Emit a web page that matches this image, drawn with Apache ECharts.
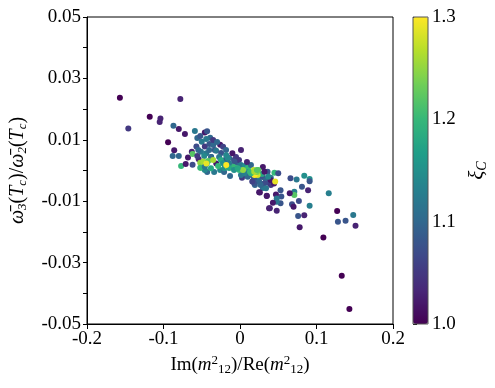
<!DOCTYPE html>
<html><head><meta charset="utf-8">
<script src="https://cdn.jsdelivr.net/npm/echarts@6/dist/echarts.min.js"></script>
<style>html,body{margin:0;padding:0;background:#fff}#c{width:495px;height:388px}</style>
</head><body><div id="c"></div>
<script>
// Im(m12^2)/Re(m12^2)
const xValues = [
-0.157,-0.078,-0.118,-0.104,-0.105,-0.146,-0.087,-0.080,-0.072,-0.059,
-0.094,-0.086,-0.088,-0.080,-0.068,-0.063,-0.057,-0.077,-0.071,-0.062,
-0.062,-0.054,-0.051,-0.046,-0.043,-0.039,-0.050,-0.046,-0.040,-0.035,
-0.026,-0.051,-0.044,-0.033,
-0.0558,-0.0519,-0.0442,-0.0351,-0.0299,-0.0221,-0.0182,-0.0545,-0.0403,-0.0312,
-0.0247,-0.0468,-0.0377,-0.0273,-0.0195,-0.0143,-0.0078,-0.0039,-0.0013,0.0013,
0.0065,0.0104,0.0117,0.0169,0.0078,0.0247,0.0299,0.0286,0.0338,0.0377,
0.0403,0.0143,-0.0260,-0.0208,-0.0338,-0.0429,-0.0558,0.0013,-0.0052,0.0091,
0.0299,0.0195,0.0299,0.0403,0.0208,-0.0130,0.0026,
0.036,0.0445,0.040,0.0316,0.025,0.0186,0.053,-0.0435,-0.0377,-0.0074,
0.0186,0.010,0.0013,-0.046,-0.0204,-0.016,
-0.052,-0.048,-0.052,-0.046,-0.038,-0.031,-0.025,-0.018,-0.010,-0.016,
-0.012,-0.005,-0.001,0.006,0.013,0.018,0.023,0.024,0.032,0.037,
0.016,0.027,0.034,0.025,0.035,0.038,-0.009,0.019,0.045,0.050,
0.046,0.066,0.074,0.084,0.091,0.091,0.081,0.089,0.071,0.071,
0.065,0.116,0.053,0.054,0.047,0.048,0.048,0.026,0.035,0.043,
0.039,0.048,0.068,0.070,0.077,0.091,0.076,0.084,0.078,0.127,
0.128,0.138,0.148,0.151,0.109,0.133,0.143,
-0.0416,-0.0351,-0.0286,-0.0221,-0.0143,0.0039,0.0221,-0.0143,-0.0078,-0.044,
-0.018,-0.003,0.0143,0.0186,0.0221
];
// omega3(Tc)/omega2(Tc)
const yValues = [
0.0237,0.0233,0.0175,0.0169,0.0158,0.0137,0.0146,0.0135,0.0119,0.0129,
0.0092,0.0066,0.0047,0.0047,0.0042,0.0061,0.0078,0.0015,0.0021,0.0019,
0.0054,0.0037,0.0009,0.0124,0.0128,0.0107,0.0094,0.0078,0.0086,0.0083,
0.0084,0.0061,0.0056,0.0067,
0.0106,0.0112,0.0103,0.0099,0.0093,0.0077,0.0067,0.0067,0.0067,0.0064,
0.0057,0.0047,0.0044,0.0044,0.0034,0.0041,0.0034,0.0024,0.0034,0.0018,
0.0015,0.0008,-0.0005,-0.0018,-0.0015,-0.0024,-0.0021,-0.0011,-0.0031,-0.0041,
-0.0024,0.0018,0.0002,-0.0005,-0.0005,-0.0005,0.0047,0.0067,0.0044,0.0028,
0.0011,-0.0047,-0.0057,-0.0047,-0.0031,-0.0018,-0.0024,
-0.0004,-0.0042,-0.0031,-0.0042,-0.0036,-0.0042,-0.0107,0.0023,0.0044,0.0029,
-0.0025,-0.0020,-0.0015,0.0002,0.0007,0.0040,
0.0025,0.0029,0.0009,0.0012,0.0007,0.0023,0.0034,0.0050,0.0056,0.0012,
0.0010,0.0007,0.0002,-0.0009,-0.0004,0.0002,-0.0015,0.0002,-0.0004,-0.0020,
-0.0036,-0.0047,-0.0058,-0.0071,-0.0082,-0.0123,0.0012,-0.0015,-0.0007,-0.0009,
-0.0036,-0.0025,-0.0029,-0.0017,-0.0028,-0.0035,-0.0053,-0.0064,-0.0069,-0.0080,
-0.0074,-0.0074,-0.0064,-0.0085,-0.0078,-0.0091,-0.0102,-0.0072,-0.0083,-0.0105,
-0.0123,-0.0131,-0.0110,-0.0118,-0.0099,-0.0115,-0.0148,-0.0146,-0.0185,-0.0132,
-0.0167,-0.0164,-0.0145,-0.0180,-0.0218,-0.0343,-0.0451,
0.0031,0.0034,0.0015,0.0024,0.0024,0.0002,-0.0005,0.0008,0.0002,0.0023,
0.0018,0.0007,-0.0009,-0.0004,0.0002
];
// xi_C
const xiValues = [
1.00,1.03,1.00,1.03,1.03,1.05,1.10,1.02,1.02,1.12,
1.00,1.02,1.10,1.10,1.02,1.03,1.07,1.20,1.02,1.07,
1.22,1.03,1.23,1.02,1.08,1.10,1.12,1.05,1.08,1.10,
1.02,1.12,1.12,1.08,
1.10,1.08,1.12,1.05,1.10,1.06,1.10,1.10,1.10,1.12,
1.08,1.14,1.10,1.12,1.08,1.10,1.08,1.10,1.05,1.12,
1.15,1.20,1.12,1.10,1.08,1.12,1.08,1.18,1.10,1.07,
1.12,1.10,1.14,1.10,1.12,1.10,1.05,1.03,1.05,1.03,
1.02,1.10,1.12,1.05,1.15,1.10,1.05,
1.08,1.02,1.02,1.07,1.10,1.08,1.08,1.12,1.10,1.08,
1.08,1.10,1.12,1.14,1.15,1.14,
1.25,1.26,1.20,1.12,1.18,1.02,1.18,1.14,1.02,1.25,
1.24,1.22,1.20,1.13,1.20,1.27,1.28,1.22,1.02,1.14,
1.06,1.10,1.12,1.02,1.02,1.02,1.20,1.30,1.20,1.07,
1.29,1.07,1.12,1.15,1.15,1.08,1.08,1.03,1.13,1.22,
1.02,1.13,1.08,1.08,1.02,1.12,1.12,1.02,1.02,1.02,
1.03,1.03,1.07,1.02,1.07,1.13,1.08,1.03,1.02,1.00,
1.08,1.08,1.12,1.03,1.00,1.00,1.00,
1.22,1.26,1.20,1.15,1.12,1.25,1.24,1.18,1.15,1.29,
1.30,1.18,1.20,1.26,1.22
];
const xTickLabels = ['-0.2','-0.1','0','0.1','0.2'];
const yTickLabels = ['-0.05','-0.03','-0.01','0.01','0.03','0.05'];
const cTickLabels = ['1.0','1.1','1.2','1.3'];

const viridis = ['#440154','#482878','#3e4989','#31688e','#26828e','#1f9e89','#35b779','#6ece58','#b5de2b','#fde725'];
const FONT = 'Liberation Serif';
const data = xValues.map((x,i)=>[x, yValues[i], xiValues[i]]);

const chart = echarts.init(document.getElementById('c'), null, {renderer:'canvas'});
chart.setOption({
  animation:false,
  backgroundColor:'#fff',
  textStyle:{fontFamily:FONT},
  grid:[
    {left:85, top:17, width:308, height:307, show:true, borderColor:'#000', borderWidth:1, backgroundColor:'transparent'},
    {left:413, top:17, width:15, height:307, show:true, borderColor:'#555', borderWidth:1, backgroundColor:'transparent', z:10}
  ],
  xAxis:[
    {gridIndex:0, type:'value', min:-0.2, max:0.2, interval:0.1,
     axisLine:{onZero:false, lineStyle:{color:'#000', width:1}},
     axisTick:{length:5, lineStyle:{color:'#000'}},
     splitLine:{show:false},
     axisLabel:{color:'#000', fontSize:19, fontFamily:FONT, margin:6,
       formatter:v=>{const k=Math.round(v*10)+2; return xTickLabels[k]!==undefined?xTickLabels[k]:'';}},
     name:'{n|Im(}{i|m}{sup|2}{sub|12}{n|)/Re(}{i|m}{sup|2}{sub|12}{n|)}', nameLocation:'middle', nameGap:28,
     nameTextStyle:{rich:{
       n:{fontSize:19, fontFamily:FONT, color:'#000'},
       i:{fontSize:19, fontFamily:FONT, fontStyle:'italic', color:'#000'},
       sup:{fontSize:13, fontFamily:FONT, color:'#000', padding:[0,0,9,0]},
       sub:{fontSize:13, fontFamily:FONT, color:'#000', padding:[9,0,0,0]}}}
    },
    {gridIndex:1, type:'value', show:false, min:0, max:1}
  ],
  yAxis:[
    {gridIndex:0, type:'value', min:-0.05, max:0.05, interval:0.01,
     axisLine:{show:true, onZero:false, lineStyle:{color:'#000', width:1}},
     axisTick:{show:true, length:4, lineStyle:{color:'#000'}},
     splitLine:{show:false},
     axisLabel:{color:'#000', fontSize:19, fontFamily:FONT, margin:6,
       formatter:v=>{const k=Math.round(v*100); if(Math.abs(k)%2!==1) return ''; return yTickLabels[(k+5)/2];}},
     name:'{i|ω̄}{s|3}{n|(}{i|T}{s|c}{n|)/}{i|ω̄}{s|2}{n|(}{i|T}{s|c}{n|)}',
     nameLocation:'middle', nameGap:58, nameRotate:90,
     nameTextStyle:{rich:{
       n:{fontSize:20, fontFamily:FONT, color:'#000'},
       i:{fontSize:20, fontFamily:FONT, fontStyle:'italic', color:'#000'},
       s:{fontSize:13, fontFamily:FONT, fontStyle:'italic', color:'#000', padding:[9,0,0,0]}}}
    },
    {gridIndex:1, type:'value', position:'right', min:1, max:1.3, interval:0.1,
     axisLine:{show:false},
     axisTick:{show:true, length:4, lineStyle:{color:'#000'}},
     splitLine:{show:false},
     axisLabel:{color:'#000', fontSize:19, fontFamily:FONT, margin:4,
       formatter:v=>{const k=Math.round((v-1)*10); return cTickLabels[k]!==undefined?cTickLabels[k]:'';}},
     name:'{i|ξ}{s|C}', nameLocation:'middle', nameGap:38, nameRotate:90,
     nameTextStyle:{rich:{
       i:{fontSize:21, fontFamily:FONT, fontStyle:'italic', color:'#000'},
       s:{fontSize:14, fontFamily:FONT, fontStyle:'italic', color:'#000', padding:[9,0,0,0]}}}
    }
  ],
  visualMap:{
    type:'continuous', min:1.0, max:1.3, dimension:2, seriesIndex:0,
    calculable:false, hoverLink:false, realtime:false,
    orient:'vertical', left:413, top:17, itemWidth:15, itemHeight:307, padding:0,
    text:null, showLabel:false,
    inRange:{color:viridis}
  },
  series:[{
    type:'scatter', xAxisIndex:0, yAxisIndex:0, data:data,
    symbol:'circle', symbolSize:6,
    itemStyle:{opacity:1}
  }]
});
</script></body></html>
